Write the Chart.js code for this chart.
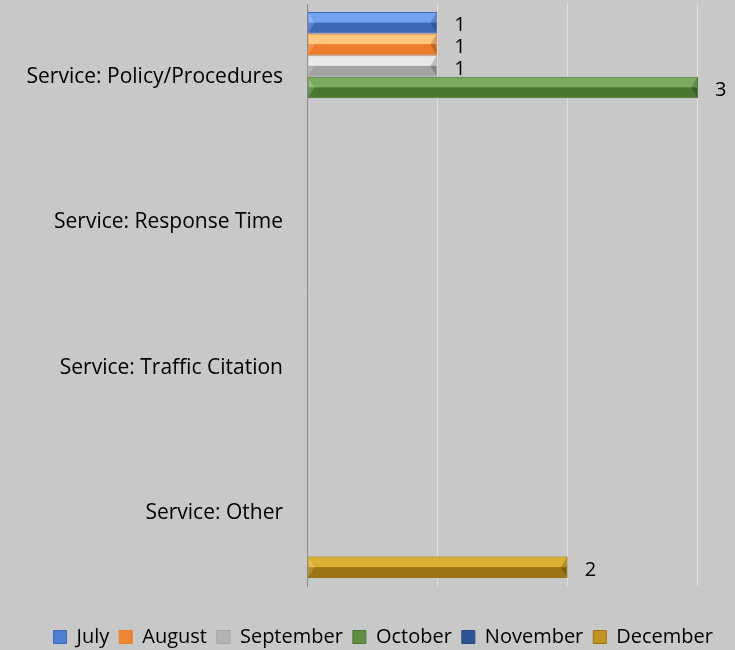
<!DOCTYPE html>
<html lang="en">
<head>
  <meta charset="UTF-8">
  <title>Service complaints by month</title>
  <script src="https://cdn.jsdelivr.net/npm/chart.js"></script>
  <style>
    html, body { margin: 0; padding: 0; background: #c8c8c8; }
    #wrap { width: 735px; height: 650px; }
  </style>
</head>
<body>
<div id="wrap"><canvas id="chart"></canvas></div>
<script>
  // categories and series
  const categories = ['Service: Policy/Procedures', 'Service: Response Time', 'Service: Traffic Citation', 'Service: Other'];
  const july      = [1, null, null, null];
  const august    = [1, null, null, null];
  const september = [1, null, null, null];
  const october   = [3, null, null, null];
  const november  = [null, null, null, null];
  const december  = [null, null, null, 2];
  const xTicks = [0, 1, 2, 3];

  // [mid, light top, dark bottom]
  const palette = {
    July:      ['#4f7fd2', '#74a3f2', '#3f68b4'],
    August:    ['#ef8633', '#ffc67c', '#ec7d2e'],
    September: ['#b4b4b4', '#e8e8e8', '#a3a3a3'],
    October:   ['#5e8f44', '#7aab5e', '#4b7632'],
    November:  ['#2f5597', '#4a72b8', '#264680'],
    December:  ['#c09420', '#dcb032', '#9b7513']
  };

  const series = [
    ['July', july], ['August', august], ['September', september],
    ['October', october], ['November', november], ['December', december]
  ];

  const font = "'Open Sans', 'Noto Sans', sans-serif";

  // draws the bevelled look and the value labels
  const bevelPlugin = {
    id: 'bevel',
    afterDatasetsDraw(chart) {
      const ctx = chart.ctx;
      chart.data.datasets.forEach((ds, i) => {
        const meta = chart.getDatasetMeta(i);
        const cols = palette[ds.label];
        meta.data.forEach((el, j) => {
          const v = ds.data[j];
          if (v == null) return;
          const p = el.getProps(['x', 'y', 'base', 'height'], true);
          const left = p.base, right = p.x, top = p.y - p.height / 2, h = p.height;
          const w = right - left;
          ctx.save();
          ctx.fillStyle = cols[1];
          ctx.fillRect(left + 1, top + 1, w - 2, h * 0.45);
          ctx.fillStyle = cols[2];
          ctx.fillRect(left + 1, top + h * 0.5, w - 2, h * 0.5 - 1);
          // end bevels
          const b = Math.min(6, h / 3);
          ctx.fillStyle = 'rgba(0,0,0,0.18)';
          ctx.beginPath();
          ctx.moveTo(right - 1, top + 1);
          ctx.lineTo(right - 1, top + h - 1);
          ctx.lineTo(right - 1 - b, top + h / 2);
          ctx.closePath();
          ctx.fill();
          ctx.fillStyle = 'rgba(255,255,255,0.18)';
          ctx.beginPath();
          ctx.moveTo(left + 1, top + 1);
          ctx.lineTo(left + 1, top + h - 1);
          ctx.lineTo(left + 1 + b, top + h / 2);
          ctx.closePath();
          ctx.fill();
          // label
          ctx.fillStyle = '#000';
          ctx.font = '20px ' + font;
          ctx.textAlign = 'left';
          ctx.textBaseline = 'middle';
          ctx.fillText(String(v), right + 17, p.y + 3);
          ctx.restore();
        });
      });
    }
  };

  new Chart(document.getElementById('chart'), {
    type: 'bar',
    data: {
      labels: categories,
      datasets: series.map(([name, values]) => ({
        label: name,
        data: values,
        backgroundColor: palette[name][0],
        borderColor: palette[name][2],
        borderWidth: 1,
        categoryPercentage: 0.89,
        barPercentage: 1
      }))
    },
    options: {
      indexAxis: 'y',
      responsive: true,
      maintainAspectRatio: false,
      animation: false,
      layout: { padding: { top: 4, right: 12, bottom: -7, left: 0 } },
      scales: {
        x: {
          // plot area runs a little past 3 so the legend can end near the right edge
          min: 0, max: 3.192,
          afterBuildTicks: (scale) => { scale.ticks = xTicks.map(v => ({ value: v })); },
          afterFit: (scale) => { scale.height = 31; },
          ticks: { display: false },
          grid: { color: '#e0e0e0', lineWidth: 1, drawTicks: false },
          border: { display: false }
        },
        y: {
          afterFit: (scale) => {
            scale.width = 307;
            scale.paddingTop = 0;
            scale.paddingBottom = 0;
          },
          ticks: { color: '#000', padding: 24, font: { family: font, size: 21 } },
          grid: { display: false, drawTicks: false },
          border: { display: true, color: '#8c8c8c', width: 1 }
        }
      },
      plugins: {
        legend: {
          position: 'bottom',
          align: 'end',
          labels: {
            color: '#000',
            font: { family: font, size: 20 },
            boxWidth: 13, boxHeight: 13,
            padding: 10
          }
        },
        tooltip: { enabled: false }
      }
    },
    plugins: [bevelPlugin]
  });
</script>
</body>
</html>
